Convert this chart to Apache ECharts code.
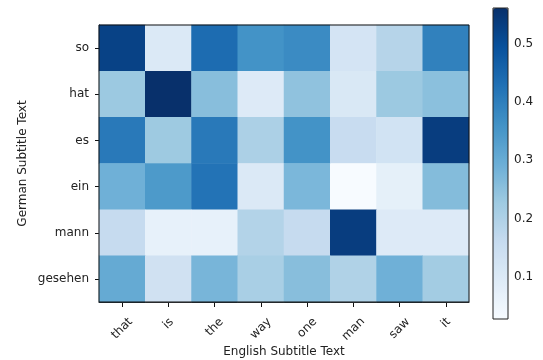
<!DOCTYPE html>
<html>
<head>
<meta charset="utf-8">
<script src="https://cdn.jsdelivr.net/npm/echarts@6/dist/echarts.min.js"></script>
<style>
  html, body { margin: 0; padding: 0; background: #fff; }
  #chart { width: 543px; height: 360px; }
</style>
</head>
<body>
<div id="chart"></div>
<script>
// English words along the x axis, German words down the y axis
const englishWords = ['that', 'is', 'the', 'way', 'one', 'man', 'saw', 'it'];
const germanWords = ['so', 'hat', 'es', 'ein', 'mann', 'gesehen'];

// Attention weights, one row per German word (columns follow englishWords)
const rowSo      = [0.525, 0.102, 0.439, 0.359, 0.375, 0.123, 0.188, 0.396];
const rowHat     = [0.230, 0.562, 0.257, 0.097, 0.246, 0.107, 0.230, 0.252];
const rowEs      = [0.412, 0.228, 0.412, 0.204, 0.359, 0.155, 0.129, 0.535];
const rowEin     = [0.289, 0.343, 0.425, 0.102, 0.273, 0.027, 0.075, 0.262];
const rowMann    = [0.161, 0.070, 0.070, 0.193, 0.161, 0.535, 0.097, 0.097];
const rowGesehen = [0.305, 0.134, 0.278, 0.209, 0.257, 0.198, 0.289, 0.220];

// Colour bar range and its tick labels
const colorMin = 0.027;
const colorMax = 0.562;
const colorTicks = [0.1, 0.2, 0.3, 0.4, 0.5];

const rows = [rowSo, rowHat, rowEs, rowEin, rowMann, rowGesehen];
const cells = [];
rows.forEach((row, yi) => row.forEach((v, xi) => cells.push([xi, yi, v])));

// matplotlib "Blues" colormap stops
const blues = ['#f7fbff', '#deebf7', '#c6dbef', '#9ecae1', '#6baed6',
               '#4292c6', '#2171b5', '#08519c', '#08306b'];

const FONT = 'DejaVu Sans';
const FS = 12;
const TXT = '#222';

// Rotated x labels are centred under their tick like matplotlib's ha="center":
// each label gets top/right padding of half its own width.
const ctx = document.createElement('canvas').getContext('2d');
ctx.font = FS + 'px "' + FONT + '"';
const xRich = {};
englishWords.forEach((w, i) => {
  const half = Math.round(ctx.measureText(w).width / 2);
  xRich['w' + i] = { fontFamily: FONT, fontSize: FS, color: TXT, padding: [half, half, 0, 0] };
});

const chart = echarts.init(document.getElementById('chart'), null, { renderer: 'canvas' });

chart.setOption({
  backgroundColor: '#fff',
  animation: false,
  textStyle: { fontFamily: FONT },
  grid: [
    { left: 99, top: 25, width: 370, height: 277, show: true, z: 5,
      outerBoundsMode: 'none', containLabel: false,
      borderColor: '#111', borderWidth: 1, backgroundColor: 'transparent' },
    { left: 493, top: 8, width: 15, height: 311, show: true, z: 10,
      outerBoundsMode: 'none', containLabel: false,
      borderColor: '#222', borderWidth: 1, backgroundColor: 'transparent' }
  ],
  xAxis: [
    {
      gridIndex: 0, type: 'category', data: englishWords, position: 'bottom',
      name: 'English Subtitle Text', nameLocation: 'middle', nameGap: 44,
      nameMoveOverlap: false,
      nameTextStyle: { fontFamily: FONT, fontSize: FS, color: TXT },
      axisLine: { show: true, lineStyle: { color: '#111' } },
      axisTick: { show: true, alignWithLabel: true, length: 5, lineStyle: { color: '#111' } },
      splitLine: { show: false },
      axisLabel: {
        rotate: 45, align: 'center', verticalAlign: 'middle', margin: 18,
        interval: 0, rich: xRich,
        formatter: (v) => '{w' + englishWords.indexOf(v) + '|' + v + '}'
      }
    },
    { gridIndex: 1, type: 'value', show: false, min: 0, max: 1 }
  ],
  yAxis: [
    {
      gridIndex: 0, type: 'category', data: germanWords, inverse: true,
      name: 'German Subtitle Text', nameLocation: 'middle', nameGap: 70,
      nameMoveOverlap: false,
      nameTextStyle: { fontFamily: FONT, fontSize: FS, color: TXT },
      axisLine: { show: true, lineStyle: { color: '#111' } },
      axisTick: { show: true, alignWithLabel: true, length: 4, lineStyle: { color: '#111' } },
      splitLine: { show: false },
      axisLabel: { fontFamily: FONT, fontSize: FS, color: TXT, margin: 10, interval: 0 }
    },
    {
      gridIndex: 1, type: 'value', position: 'right', min: colorMin, max: colorMax,
      axisLine: { show: false },
      splitLine: { show: false },
      axisTick: { show: true, length: 4, customValues: colorTicks, lineStyle: { color: '#222' } },
      axisLabel: {
        fontFamily: FONT, fontSize: FS, color: TXT, margin: 6,
        customValues: colorTicks, formatter: (v) => v.toFixed(1)
      }
    }
  ],
  visualMap: {
    type: 'continuous', min: colorMin, max: colorMax, seriesIndex: 0,
    calculable: false, show: true, orient: 'vertical',
    left: 493, top: 8, itemWidth: 15, itemHeight: 311, padding: 0,
    text: null, showLabel: false, hoverLink: false,
    inRange: { color: blues }
  },
  series: [{
    type: 'heatmap', xAxisIndex: 0, yAxisIndex: 0, data: cells,
    itemStyle: { borderWidth: 0 }, label: { show: false },
    emphasis: { disabled: true }
  }]
});
</script>
</body>
</html>
